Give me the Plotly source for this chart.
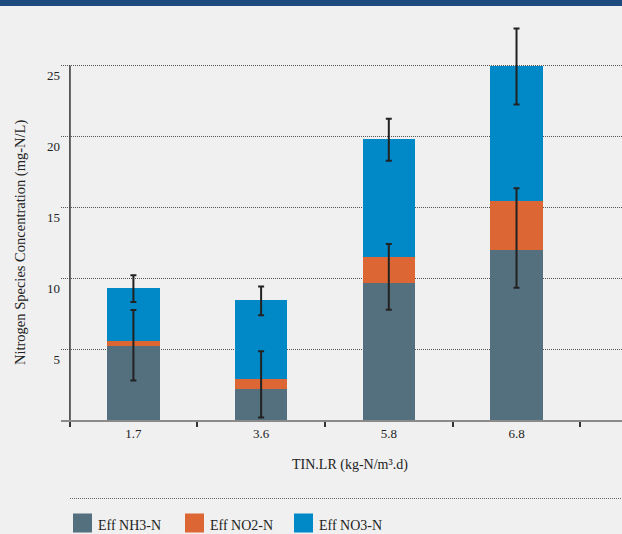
import plotly.graph_objects as go

# ---------------- data ----------------
categories = ["1.7", "3.6", "5.8", "6.8"]
series_names = ["Eff NH3-N", "Eff NO2-N", "Eff NO3-N"]
nh3 = [5.24, 2.21, 9.68, 11.96]
no2 = [0.30, 0.65, 1.84, 3.46]
no3 = [3.77, 5.62, 8.30, 9.52]
nh3_err_plus = [2.52, 2.63, 2.73, 4.37]
nh3_err_minus = [2.45, 2.03, 1.90, 2.63]
tot_err_plus = [0.89, 0.94, 1.41, 2.66]
tot_err_minus = [0.99, 1.10, 1.55, 2.70]
y_ticks = [5, 10, 15, 20, 25]
x_title = "TIN.LR (kg-N/m³.d)"
y_title = "Nitrogen Species Concentration (mg-N/L)"

# ---------------- style ----------------
colors = ["#546f7e", "#dd6734", "#0089c6"]
BG = "#f0f0f0"
TXT = "#222222"
FONT = "Liberation Serif"
W, H = 622, 534
ML, MR, MT, MB = 61, 0, 20, 114
PW, PH = W - ML - MR, H - MT - MB


def px(x):
    return (x - ML) / PW


def py(y):
    return (H - MB - y) / PH


fig = go.Figure()
for name, vals, col in zip(series_names, [nh3, no2, no3], colors):
    fig.add_trace(go.Bar(x=categories, y=vals, name=name, marker_color=col,
                         marker_line_width=0, width=0.41, showlegend=False))

totals = [a + b + c for a, b, c in zip(nh3, no2, no3)]
err_style = dict(type="data", symmetric=False, color="#222222", thickness=2, width=3)
fig.add_trace(go.Scatter(x=categories, y=nh3, mode="markers", marker=dict(size=0.1, opacity=0),
                         error_y=dict(array=nh3_err_plus, arrayminus=nh3_err_minus, **err_style),
                         showlegend=False, hoverinfo="skip"))
fig.add_trace(go.Scatter(x=categories, y=totals, mode="markers", marker=dict(size=0.1, opacity=0),
                         error_y=dict(array=tot_err_plus, arrayminus=tot_err_minus, **err_style),
                         showlegend=False, hoverinfo="skip"))

shapes = []
# y axis line
shapes.append(dict(type="line", xref="x", yref="y", x0=-0.497, x1=-0.497, y0=0, y1=25,
                   line=dict(color="#333333", width=1.5)))
# top banner
shapes.append(dict(type="rect", xref="paper", yref="paper", x0=px(0), x1=px(W), y0=py(6), y1=py(0),
                   fillcolor="#1d4a7f", line=dict(width=0), layer="above"))
# separator
shapes.append(dict(type="line", xref="paper", yref="paper", x0=px(70), x1=px(W), y0=py(498.5), y1=py(498.5),
                   line=dict(color="#666666", width=1, dash="1px,1px")))

annotations = [
    dict(text=x_title, xref="paper", yref="paper", x=px(350), y=py(465), showarrow=False,
         xanchor="center", yanchor="middle", font=dict(family=FONT, size=14, color=TXT)),
    dict(text=y_title, xref="paper", yref="paper", x=px(20), y=py(243), showarrow=False, textangle=-90,
         xanchor="center", yanchor="middle", font=dict(family=FONT, size=14.5, color=TXT)),
]

legend_x = [73, 185, 294]
for lx, name, col in zip(legend_x, series_names, colors):
    shapes.append(dict(type="rect", xref="paper", yref="paper", x0=px(lx), x1=px(lx + 19),
                       y0=py(532.5), y1=py(513.5), fillcolor=col, line=dict(width=0)))
    annotations.append(dict(text=name, xref="paper", yref="paper", x=px(lx + 23), y=py(525),
                            showarrow=False, xanchor="left", yanchor="middle",
                            font=dict(family=FONT, size=14, color=TXT)))

fig.update_layout(
    width=W, height=H,
    margin=dict(l=ML, r=MR, t=MT, b=MB, pad=0),
    paper_bgcolor=BG, plot_bgcolor=BG,
    barmode="stack",
    font=dict(family=FONT, size=13, color=TXT),
    showlegend=False,
    shapes=shapes,
    annotations=annotations,
    xaxis=dict(type="category", range=[-0.567, 3.826], showgrid=False, zeroline=False,
               showline=True, linecolor="#8a8a8a", linewidth=2,
               ticks="outside", tickson="boundaries", ticklen=5, tickwidth=1.5, tickcolor="#333333",
               tickfont=dict(family=FONT, size=13, color=TXT)),
    yaxis=dict(range=[0, PH / 14.185], tickvals=y_ticks, showgrid=True, gridcolor="#555555",
               gridwidth=1, griddash="1px,1px", zeroline=False, showline=False, ticks="",
               ticklabelshift=10, ticklabelstandoff=0,
               tickfont=dict(family=FONT, size=13, color=TXT)),
)

fig.write_html("out.html")
